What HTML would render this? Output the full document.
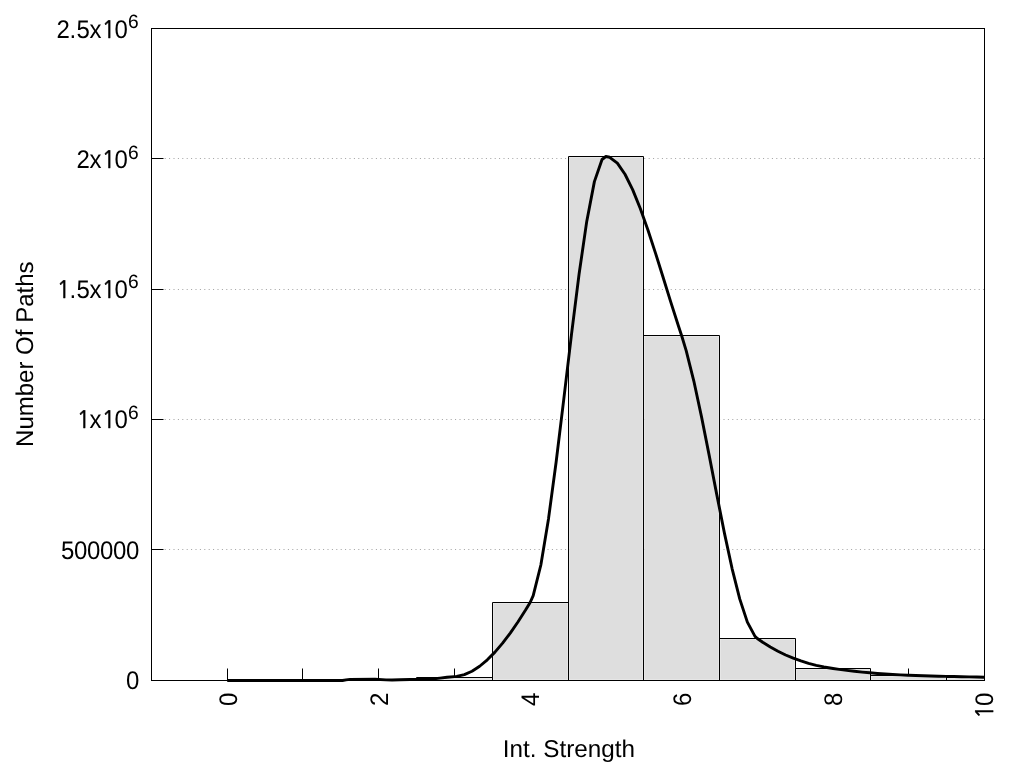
<!DOCTYPE html><html><head><meta charset="utf-8"><style>html,body{margin:0;padding:0;background:#fff;overflow:hidden}svg{display:block;filter:grayscale(1)}text{font-family:"Liberation Sans",Arial,sans-serif;font-size:24px;fill:#000;text-rendering:geometricPrecision}.one{font-family:"NanumGothic","Liberation Sans",sans-serif;font-size:22.6px;stroke:#000;stroke-width:0.55px}</style></head><body>
<svg width="1024" height="768" viewBox="0 0 1024 768">
<rect width="1024" height="768" fill="#fff"/>
<line x1="151.5" y1="158.5" x2="984.5" y2="158.5" stroke="#a0a0a0" stroke-width="1" stroke-dasharray="1 3.4"/>
<line x1="151.5" y1="289.5" x2="984.5" y2="289.5" stroke="#a0a0a0" stroke-width="1" stroke-dasharray="1 3.4"/>
<line x1="151.5" y1="419.5" x2="984.5" y2="419.5" stroke="#a0a0a0" stroke-width="1" stroke-dasharray="1 3.4"/>
<line x1="151.5" y1="549.5" x2="984.5" y2="549.5" stroke="#a0a0a0" stroke-width="1" stroke-dasharray="1 3.4"/>
<rect x="151.5" y="28.5" width="833" height="652" fill="none" stroke="#000" stroke-width="1"/>
<line x1="151.5" y1="28.5" x2="163.5" y2="28.5" stroke="#000" stroke-width="1"/>
<line x1="151.5" y1="158.5" x2="163.5" y2="158.5" stroke="#000" stroke-width="1"/>
<line x1="151.5" y1="289.5" x2="163.5" y2="289.5" stroke="#000" stroke-width="1"/>
<line x1="151.5" y1="419.5" x2="163.5" y2="419.5" stroke="#000" stroke-width="1"/>
<line x1="151.5" y1="549.5" x2="163.5" y2="549.5" stroke="#000" stroke-width="1"/>
<line x1="151.5" y1="680.5" x2="163.5" y2="680.5" stroke="#000" stroke-width="1"/>
<line x1="227.5" y1="680.5" x2="227.5" y2="668.5" stroke="#000" stroke-width="1"/>
<line x1="302.5" y1="680.5" x2="302.5" y2="668.5" stroke="#000" stroke-width="1"/>
<line x1="378.5" y1="679.5" x2="378.5" y2="668.5" stroke="#000" stroke-width="1"/>
<line x1="454.5" y1="677.5" x2="454.5" y2="668.5" stroke="#000" stroke-width="1"/>
<line x1="908.5" y1="675.5" x2="908.5" y2="668.5" stroke="#000" stroke-width="1"/>
<line x1="984.5" y1="680.5" x2="984.5" y2="668.5" stroke="#000" stroke-width="1"/>
<path d="M340.5 680.5V679.5H416.5V680.5" fill="none" stroke="#000" stroke-width="1"/>
<rect x="417.25" y="678.25" width="74.5" height="1.5" fill="#dedede"/>
<path d="M416.5 680.5V677.5H492.5V680.5" fill="none" stroke="#000" stroke-width="1"/>
<rect x="493.25" y="603.25" width="74.5" height="76.5" fill="#dedede"/>
<path d="M492.5 680.5V602.5H568.5V680.5" fill="none" stroke="#000" stroke-width="1"/>
<rect x="569.25" y="157.25" width="73.5" height="522.5" fill="#dedede"/>
<path d="M568.5 680.5V156.5H643.5V680.5" fill="none" stroke="#000" stroke-width="1"/>
<rect x="644.25" y="336.25" width="74.5" height="343.5" fill="#dedede"/>
<path d="M643.5 680.5V335.5H719.5V680.5" fill="none" stroke="#000" stroke-width="1"/>
<rect x="720.25" y="639.25" width="74.5" height="40.5" fill="#dedede"/>
<path d="M719.5 680.5V638.5H795.5V680.5" fill="none" stroke="#000" stroke-width="1"/>
<rect x="796.25" y="669.25" width="73.5" height="10.5" fill="#dedede"/>
<path d="M795.5 680.5V668.5H870.5V680.5" fill="none" stroke="#000" stroke-width="1"/>
<rect x="871.25" y="676.25" width="74.5" height="3.5" fill="#dedede"/>
<path d="M870.5 680.5V675.5H946.5V680.5" fill="none" stroke="#000" stroke-width="1"/>
<rect x="947.25" y="678.25" width="36.5" height="1.5" fill="#dedede"/>
<path d="M946.5 680.5V677.5H984.5V680.5" fill="none" stroke="#000" stroke-width="1"/>
<path d="M227.23 680.50 L234.88 680.50 L242.53 680.50 L250.17 680.50 L257.82 680.50 L265.47 680.50 L273.12 680.50 L280.77 680.50 L288.42 680.50 L296.07 680.50 L302.95 680.50 L303.20 680.50 L342.50 680.45 L346.00 679.90 L350.00 679.40 L375.00 679.30 L386.00 679.90 L392.00 680.00 L400.00 679.80 L410.00 679.50 L425.00 679.40 L432.00 679.00 L440.00 678.10 L447.00 677.30 L454.41 676.59 L456.70 676.39 L464.35 674.62 L472.00 671.20 L479.65 666.24 L487.30 659.84 L494.95 652.11 L502.60 643.16 L510.25 633.10 L517.90 622.03 L525.55 610.07 L530.14 602.50 L533.20 595.65 L540.85 565.02 L548.49 518.90 L556.14 462.01 L563.79 399.08 L571.44 334.85 L579.09 274.05 L586.74 221.40 L594.39 181.64 L602.04 159.49 L605.86 156.50 L609.69 157.28 L617.34 163.20 L624.99 174.25 L632.64 189.62 L640.29 208.47 L647.93 229.98 L655.58 253.35 L663.23 277.73 L670.88 302.31 L678.53 326.27 L681.59 335.50 L686.18 350.55 L693.83 381.05 L701.48 416.58 L709.13 455.11 L716.78 494.62 L724.43 533.10 L732.08 568.53 L739.72 598.89 L747.37 622.16 L755.02 636.33 L757.32 638.50 L762.67 642.21 L770.32 647.01 L777.97 651.25 L785.62 654.97 L793.27 658.21 L800.92 660.98 L808.57 663.35 L816.22 665.32 L823.87 666.95 L831.52 668.27 L833.05 668.50 L839.16 669.36 L846.81 670.36 L854.46 671.26 L862.11 672.07 L869.76 672.79 L877.41 673.44 L885.06 674.00 L892.71 674.49 L900.36 674.91 L908.01 675.25 L908.77 675.28 L915.66 675.54 L923.31 675.79 L930.96 676.02 L938.60 676.21 L946.25 676.39 L953.90 676.55 L961.55 676.72 L969.20 676.88 L976.85 677.05 L984.50 677.24" fill="none" stroke="#000" stroke-width="2.9" stroke-linejoin="round" stroke-linecap="butt"/>
<text transform="translate(0,688.70) scale(1,1.06)" x="126.00" y="0">0</text>
<text transform="translate(0,559.00) scale(1,1.06)" x="61.00 74.00 87.00 100.00 113.00 126.00" y="0">500000</text>
<text transform="translate(0,428.00) scale(1,1.06)" x="76.80 89.60 101.80 114.60" y="0"><tspan class="one">1</tspan>x<tspan class="one">1</tspan>0</text>
<text transform="translate(127.9,418.5) scale(1,1.0)" style="font-size:19.2px;text-rendering:geometricPrecision">6</text>
<text transform="translate(0,297.70) scale(1,1.06)" x="56.80 69.60 76.60 89.60 101.80 114.60" y="0"><tspan class="one">1</tspan>.5x<tspan class="one">1</tspan>0</text>
<text transform="translate(127.9,288.1) scale(1,1.0)" style="font-size:19.2px;text-rendering:geometricPrecision">6</text>
<text transform="translate(0,168.00) scale(1,1.06)" x="76.60 89.60 101.80 114.60" y="0">2x<tspan class="one">1</tspan>0</text>
<text transform="translate(127.9,158.5) scale(1,1.0)" style="font-size:19.2px;text-rendering:geometricPrecision">6</text>
<text transform="translate(0,37.70) scale(1,1.06)" x="56.60 69.60 76.60 89.60 101.80 114.60" y="0">2.5x<tspan class="one">1</tspan>0</text>
<text transform="translate(127.9,28.4) scale(1,1.0)" style="font-size:19.2px;text-rendering:geometricPrecision">6</text>
<text transform="translate(236.55,692.9) rotate(-90) scale(1,1.06)" x="-13.00" y="0">0</text>
<text transform="translate(388.00,692.9) rotate(-90) scale(1,1.06)" x="-13.00" y="0">2</text>
<text transform="translate(539.00,692.9) rotate(-90) scale(1,1.06)" x="-13.00" y="0">4</text>
<text transform="translate(690.55,692.9) rotate(-90) scale(1,1.06)" x="-13.00" y="0">6</text>
<text transform="translate(841.75,692.9) rotate(-90) scale(1,1.06)" x="-13.00" y="0">8</text>
<text transform="translate(992.55,692.9) rotate(-90) scale(1,1.06)" x="-25.80 -13.00" y="0"><tspan class="one">1</tspan>0</text>
<text transform="translate(568.9,756.6) scale(1.011,1.01)" text-anchor="middle">Int. Strength</text>
<text transform="translate(33,354.2) rotate(-90) scale(1,1.01)" text-anchor="middle">Number Of Paths</text>
</svg></body></html>
